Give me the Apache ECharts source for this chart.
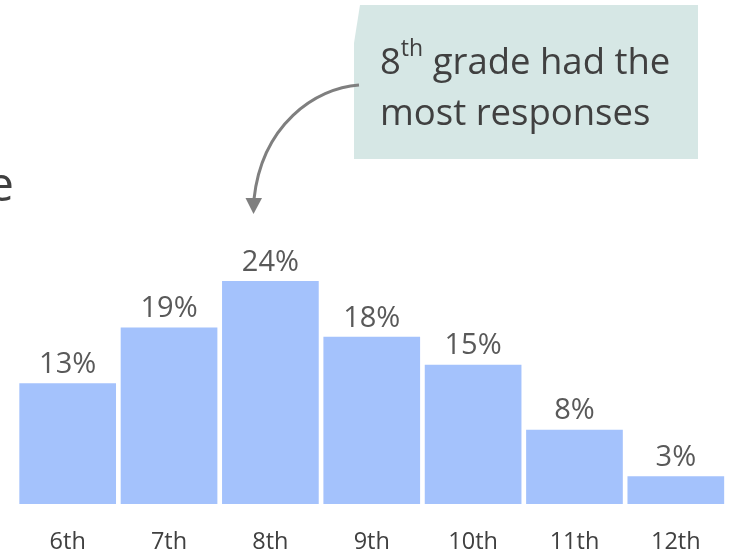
<!DOCTYPE html>
<html>
<head>
<meta charset="utf-8">
<script src="https://cdn.jsdelivr.net/npm/echarts@6/dist/echarts.min.js"></script>
<style>
html,body{margin:0;padding:0;background:#fff;}
#chart{width:729px;height:556px;}
</style>
</head>
<body>
<div id="chart"></div>
<script>
const grades = ['6th', '7th', '8th', '9th', '10th', '11th', '12th'];
const shares = [13, 19, 24, 18, 15, 8, 3];
const calloutLine1 = '8';
const calloutSup = 'th';
const calloutLine1Rest = ' grade had the';
const calloutLine2 = 'most responses';

const FONT = 'Open Sans';
const chart = echarts.init(document.getElementById('chart'));
chart.setOption({
  backgroundColor: '#ffffff',
  animation: false,
  grid: { left: 17, right: 2.5, top: 271.8, bottom: 52 },
  xAxis: {
    type: 'category',
    data: grades,
    axisLine: { show: false },
    axisTick: { show: false },
    axisLabel: { color: '#404040', fontFamily: FONT, fontSize: 23.5, margin: 26 }
  },
  yAxis: {
    type: 'value', min: 0, max: 25,
    show: false,
    splitLine: { show: false }
  },
  series: [{
    type: 'bar',
    data: shares,
    barCategoryGap: '4.6%',
    itemStyle: { color: '#a4c2fc' },
    label: {
      show: true, position: 'top', distance: 4,
      formatter: p => p.value + '%',
      color: '#595959', fontFamily: FONT, fontSize: 29
    }
  }],
  graphic: [
    {
      type: 'polygon',
      shape: { points: [[360, 5], [698, 5], [698, 159], [354, 159], [354, 43]] },
      style: { fill: '#d6e7e5' },
      z: 1
    },
    {
      type: 'text',
      x: 380, y: 38,
      style: {
        text: '{n|' + calloutLine1 + '}{s|' + calloutSup + '}{n|' + calloutLine1Rest + '}\n{n|' + calloutLine2 + '}',
        fill: '#404040',
        fontFamily: FONT,
        rich: {
          n: { fontFamily: FONT, fontSize: 36.5, lineHeight: 51, fill: '#404040' },
          s: { fontFamily: FONT, fontSize: 23, lineHeight: 38, verticalAlign: 'top', fill: '#404040' }
        }
      },
      z: 2
    },
    {
      type: 'bezierCurve',
      shape: { x1: 359, y1: 85, cpx1: 315, cpy1: 88, cpx2: 262, cpy2: 125, x2: 254, y2: 199 },
      style: { stroke: '#7f7f7f', lineWidth: 3, fill: null },
      z: 3
    },
    {
      type: 'polygon',
      shape: { points: [[245.5, 198], [262, 198], [253.5, 214]] },
      style: { fill: '#7f7f7f' },
      z: 3
    },
    {
      type: 'text',
      x: 14, y: 187,
      style: { text: 'e', fontFamily: FONT, fontSize: 48, fill: '#404040', align: 'right', verticalAlign: 'middle' }
    }
  ]
});
</script>
</body>
</html>
